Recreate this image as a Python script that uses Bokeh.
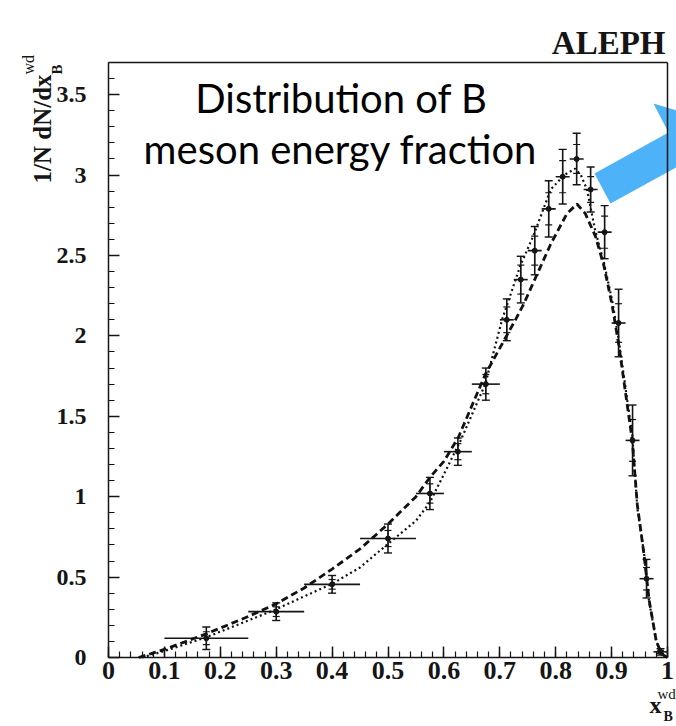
import math
from bokeh.plotting import figure
from bokeh.models import (Range1d, SingleIntervalTicker, CustomJSTickFormatter, Label,
                          ColumnDataSource, Whisker, TeeHead, LinearAxis)
from bokeh.embed import file_html
from bokeh.resources import INLINE

# ---------------- data ----------------
x_center = [0.175, 0.3, 0.4, 0.5, 0.575, 0.625, 0.675, 0.7125, 0.7375, 0.7625, 0.7875,
            0.8125, 0.8375, 0.8625, 0.8875, 0.9125, 0.9375, 0.9625, 0.9875]
x_low = [0.10, 0.25, 0.35, 0.45, 0.55, 0.60, 0.65, 0.70, 0.725, 0.75, 0.775,
         0.80, 0.825, 0.85, 0.875, 0.90, 0.925, 0.95, 0.975]
x_high = [0.25, 0.35, 0.45, 0.55, 0.60, 0.65, 0.70, 0.725, 0.75, 0.775, 0.80,
          0.825, 0.85, 0.875, 0.90, 0.925, 0.95, 0.975, 1.0]
y_val = [0.12, 0.285, 0.455, 0.74, 1.02, 1.28, 1.70, 2.10, 2.35, 2.53, 2.79,
         2.99, 3.10, 2.91, 2.645, 2.08, 1.35, 0.49, 0.035]
y_err_tot = [0.07, 0.055, 0.055, 0.09, 0.10, 0.085, 0.10, 0.13, 0.145, 0.15, 0.175,
             0.17, 0.16, 0.14, 0.165, 0.21, 0.22, 0.12, 0.02]
y_err_stat = [0.04, 0.03, 0.03, 0.05, 0.06, 0.05, 0.06, 0.08, 0.09, 0.09, 0.10,
              0.10, 0.09, 0.08, 0.10, 0.12, 0.13, 0.07, 0.01]

# dashed model curve
dash_x = [0.054, 0.1, 0.175, 0.25, 0.3, 0.35, 0.4, 0.45, 0.5, 0.55, 0.575, 0.6, 0.626,
          0.674, 0.728, 0.743, 0.791, 0.82, 0.838, 0.853, 0.871, 0.886, 0.901, 0.913,
          0.928, 0.937, 0.946, 0.958, 0.967, 0.98, 0.99, 1.0]
dash_y = [0.0, 0.05, 0.147, 0.255, 0.334, 0.432, 0.55, 0.675, 0.83, 1.0, 1.12, 1.22, 1.37,
          1.76, 2.10, 2.20, 2.57, 2.76, 2.82, 2.76, 2.62, 2.44, 2.19, 1.94,
          1.57, 1.35, 0.95, 0.64, 0.36, 0.10, 0.02, 0.0]

# dotted model curve
dot_x = [0.06, 0.1, 0.175, 0.25, 0.3, 0.35, 0.4, 0.45, 0.5, 0.55, 0.575, 0.6, 0.63,
         0.674, 0.704, 0.737, 0.761, 0.791, 0.815, 0.835, 0.845, 0.856, 0.871, 0.886,
         0.901, 0.913, 0.928, 0.937, 0.946, 0.958, 0.967, 0.98, 0.99]
dot_y = [0.0, 0.04, 0.126, 0.23, 0.30, 0.38, 0.458, 0.56, 0.707, 0.85, 0.965, 1.14, 1.35,
         1.70, 2.10, 2.44, 2.63, 2.91, 3.0, 3.04, 3.0, 2.91, 2.65, 2.46,
         2.22, 1.97, 1.60, 1.38, 0.93, 0.65, 0.35, 0.10, 0.02]

x_axis_end = 1.0
y_axis_end = 3.7

title_text = "ALEPH"
note_line1 = "Distribution of B"
note_line2 = "meson energy fraction"
y_title = "1/N dN/dx"
x_title = "x"
sub_text = "B"
sup_text = "wd"

# ---------------- layout helpers (pixel -> data) ----------------
W, H = 676, 726
X0, XS = 108.0, 559.0      # pixel of x=0, pixels per unit
Y0, YS = 657.0, 160.81     # pixel of y=0, pixels per unit
SHIFT = 0.44               # baseline correction (fraction of font size)


def px(xp):
    return (xp - X0) / XS


def py(yp):
    return (Y0 - yp) / YS


INK = "#151515"
serif = "Liberation Serif"

p = figure(width=W, height=H,
           x_range=Range1d(px(0), px(W)), y_range=Range1d(py(H), py(0)),
           x_axis_location=None, y_axis_location=None,
           output_backend="svg", toolbar_location=None)
p.min_border = 0
p.min_border_left = 0
p.min_border_right = 0
p.min_border_top = 0
p.min_border_bottom = 0
p.outline_line_color = None
p.grid.visible = False
p.background_fill_color = "white"
p.border_fill_color = "white"

fmt = CustomJSTickFormatter(code="return Number(tick.toFixed(2)).toString();")

xa = LinearAxis(fixed_location=0, bounds=(0, x_axis_end),
                ticker=SingleIntervalTicker(interval=0.1, num_minor_ticks=5))
xa.major_label_text_font_size = "26px"
xa.major_label_standoff = 4

ya = LinearAxis(fixed_location=0, bounds=(0, y_axis_end),
                ticker=SingleIntervalTicker(interval=0.5, num_minor_ticks=5))
ya.major_label_text_font_size = "24px"
ya.major_label_standoff = 22

for ax in (xa, ya):
    ax.formatter = fmt
    ax.axis_line_color = INK
    ax.axis_line_width = 1.5
    ax.major_tick_line_color = INK
    ax.minor_tick_line_color = INK
    ax.major_tick_line_width = 1.5
    ax.minor_tick_line_width = 1.2
    ax.major_tick_in = 11
    ax.major_tick_out = 0
    ax.minor_tick_in = 6
    ax.minor_tick_out = 0
    ax.major_label_text_font = serif
    ax.major_label_text_font_style = "bold"
    ax.major_label_text_color = INK

p.add_layout(xa, "below")
p.add_layout(ya, "left")

# ---------------- blue arrow (annotation) ----------------
arrow_px = [(594, 173), (668, 132), (653, 103), (690, 114), (690, 159), (610, 203)]
p.patch([px(a) for a, b in arrow_px], [py(b) for a, b in arrow_px],
        fill_color="#4DB2F7", line_color=None)

# frame lines (top and right)
p.segment(x0=[0, x_axis_end], y0=[y_axis_end, 0], x1=[x_axis_end, x_axis_end],
          y1=[y_axis_end, y_axis_end], line_color=INK, line_width=1.5)

# ---------------- curves ----------------
p.line(dash_x, dash_y, line_color="#111111", line_width=2.8, line_dash="7 4")
p.line(dot_x, dot_y, line_color="#111111", line_width=2.2, line_dash="2 3")

# ---------------- data points ----------------
src = ColumnDataSource(dict(
    x=x_center, y=y_val, lo=x_low, hi=x_high,
    up=[v + e for v, e in zip(y_val, y_err_tot)],
    dn=[v - e for v, e in zip(y_val, y_err_tot)],
    sup=[v + e for v, e in zip(y_val, y_err_stat)],
    sdn=[v - e for v, e in zip(y_val, y_err_stat)],
))

p.segment(x0="lo", y0="y", x1="hi", y1="y", source=src, line_color=INK, line_width=1.6)
p.add_layout(Whisker(base="x", upper="up", lower="dn", source=src, dimension="height",
                     line_color=INK, line_width=1.6,
                     upper_head=TeeHead(size=8, line_color=INK, line_width=1.4),
                     lower_head=TeeHead(size=8, line_color=INK, line_width=1.4)))
p.add_layout(Whisker(base="x", upper="sup", lower="sdn", source=src, dimension="height",
                     line_color=INK, line_width=1.0,
                     upper_head=TeeHead(size=7, line_color=INK, line_width=1.2),
                     lower_head=TeeHead(size=7, line_color=INK, line_width=1.2)))
p.scatter("x", "y", source=src, size=5, color=INK)


# ---------------- texts ----------------
def hlabel(text, xp, base_yp, size, align="left", font=serif, style="normal", color=INK):
    p.add_layout(Label(x=px(xp), y=py(base_yp - SHIFT * size), text=text, text_align=align,
                       text_baseline="alphabetic", text_font=font, text_font_style=style,
                       text_font_size=f"{size}px", text_color=color))


def vlabel(text, base_xp, start_yp, size, style="normal"):
    p.add_layout(Label(x=px(base_xp - SHIFT * size), y=py(start_yp), text=text,
                       angle=math.pi / 2, text_align="left", text_baseline="alphabetic",
                       text_font=serif, text_font_style=style,
                       text_font_size=f"{size}px", text_color=INK))


hlabel(title_text, 665, 57, 33, align="right", style="bold")
hlabel(note_line1, 341, 115, 40, align="center", font="Lato", color="black")
hlabel(note_line2, 340, 166, 40, align="center", font="Lato", color="black")

# y axis title (rotated) with sub/superscript
vlabel(y_title, 53, 183, 25, style="bold")
vlabel(sub_text, 63, 74, 15, style="bold")
vlabel(sup_text, 35, 74, 16)

# x axis title with sub/superscript
hlabel(x_title, 649, 715, 24, style="bold")
hlabel(sub_text, 663, 722, 14, style="bold")
hlabel(sup_text, 657, 700, 15)

open("out.html", "w").write(file_html(p, INLINE))
